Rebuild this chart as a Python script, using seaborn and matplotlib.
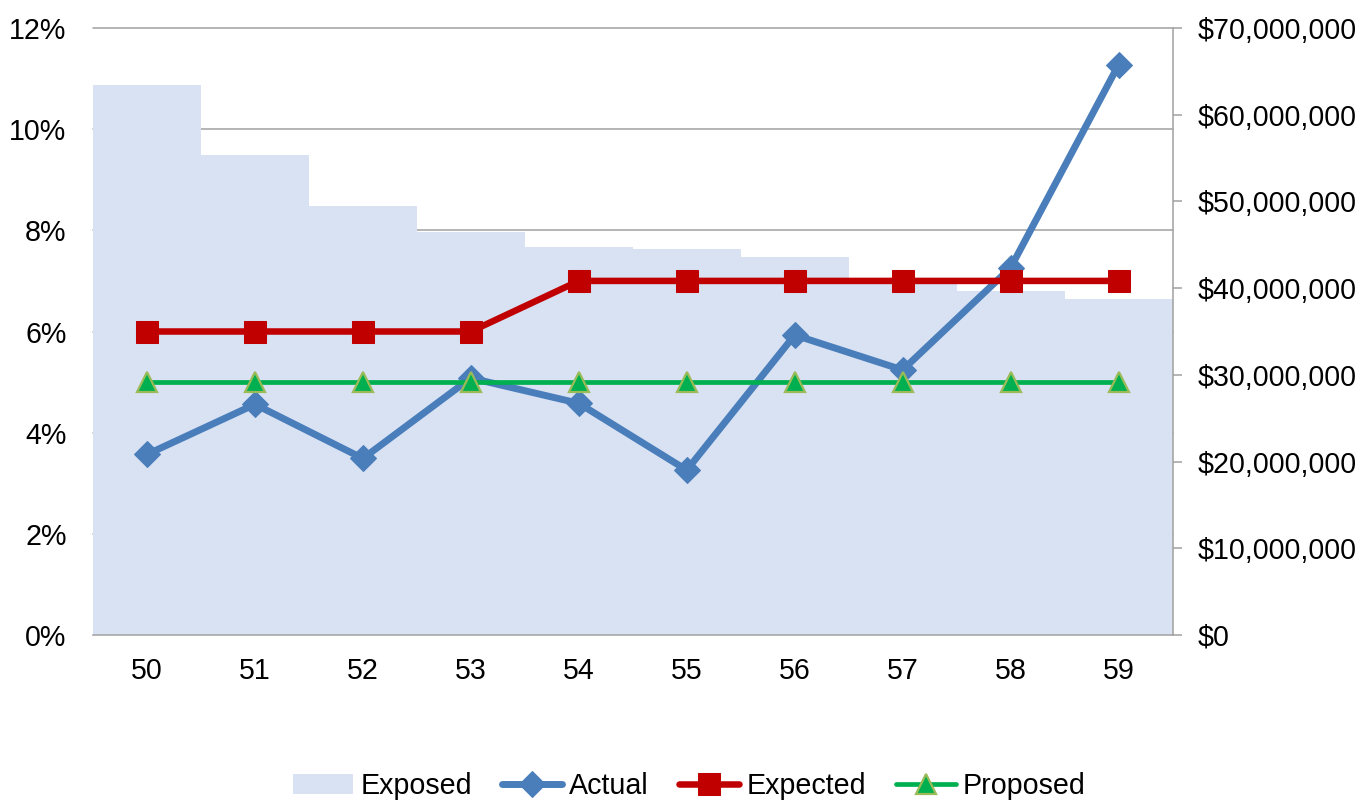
import numpy as np
import pandas as pd
import matplotlib
matplotlib.use("Agg")
import matplotlib.pyplot as plt
import matplotlib.transforms as mtransforms
from matplotlib.patches import Patch
from matplotlib.ticker import FuncFormatter, MultipleLocator
import seaborn as sns

# ---- data -------------------------------------------------------------
ages = ["50", "51", "52", "53", "54", "55", "56", "57", "58", "59"]
exposed = [63.4e6, 55.4e6, 49.5e6, 46.5e6, 44.7e6, 44.5e6, 43.6e6, 41.0e6, 39.7e6, 38.8e6]
actual = [3.57, 4.56, 3.49, 5.08, 4.58, 3.26, 5.93, 5.24, 7.26, 11.27]     # percent
expected = [6, 6, 6, 6, 7, 7, 7, 7, 7, 7]                                   # percent
proposed = [5, 5, 5, 5, 5, 5, 5, 5, 5, 5]                                   # percent

df = pd.DataFrame({
    "age": ages,
    "pos": np.arange(len(ages)),
    "exposed": exposed,
    "actual": actual,
    "expected": expected,
    "proposed": proposed,
})

# ---- style ------------------------------------------------------------
sns.set_theme(style="white")
plt.rcParams["font.family"] = ["Liberation Sans", "DejaVu Sans"]
plt.rcParams["text.color"] = "#000000"

BAR_COLOR = "#D9E2F3"
ACTUAL_COLOR = "#4A7EBB"
EXPECTED_COLOR = "#C00000"
PROPOSED_COLOR = "#00B050"
PROPOSED_EDGE = "#9BBB59"
AXIS_GRAY = "#A0A0A0"
FS = 20.6

fig = plt.figure(figsize=(13.65, 8.01), dpi=100)
ax_bar = fig.add_axes([93 / 1365, 1 - 635 / 801, (1172.5 - 93) / 1365, (635 - 28) / 801])
ax_line = ax_bar.twinx()

# ---- exposure bars (right-hand $ axis) ----------------------------------
sns.barplot(data=df, x="age", y="exposed", ax=ax_bar, color=BAR_COLOR,
            saturation=1, width=1.0, errorbar=None, edgecolor="none",
            linewidth=0, zorder=1)
ax_bar.set_ylim(0, 70e6)
ax_bar.yaxis.set_major_locator(MultipleLocator(10e6))
ax_bar.yaxis.set_major_formatter(FuncFormatter(lambda v, p: f"${v:,.0f}"))
ax_bar.yaxis.tick_right()
ax_bar.yaxis.set_label_position("right")
ax_bar.tick_params(axis="y", which="both", right=True, left=False, length=6.5,
                   width=1.1, color=AXIS_GRAY, pad=11.5, labelsize=FS,
                   labelcolor="#000000")
ax_bar.tick_params(axis="x", bottom=False, length=0, pad=16, labelsize=FS,
                   labelcolor="#000000")
for side in ("top", "left"):
    ax_bar.spines[side].set_visible(False)
for side in ("bottom", "right"):
    ax_bar.spines[side].set_color(AXIS_GRAY)
    ax_bar.spines[side].set_linewidth(1.1)
ax_bar.set_xlabel("")
ax_bar.set_ylabel("")

# ---- rate lines (left-hand % axis) ------------------------------------
sns.lineplot(data=df, x="pos", y="actual", ax=ax_line, color=ACTUAL_COLOR,
             linewidth=5, marker="D", markersize=13.5, markeredgecolor=ACTUAL_COLOR,
             markerfacecolor=ACTUAL_COLOR, label="Actual", legend=False)
sns.lineplot(data=df, x="pos", y="expected", ax=ax_line, color=EXPECTED_COLOR,
             linewidth=4.7, marker="s", markersize=16, markeredgecolor=EXPECTED_COLOR,
             markerfacecolor=EXPECTED_COLOR, label="Expected", legend=False)
sns.lineplot(data=df, x="pos", y="proposed", ax=ax_line, color=PROPOSED_COLOR,
             linewidth=3.4, marker="^", markersize=14.5, markeredgecolor=PROPOSED_EDGE,
             markeredgewidth=1.6, markerfacecolor=PROPOSED_COLOR, label="Proposed",
             legend=False)
ax_line.set_ylim(0, 12)
ax_line.yaxis.set_major_locator(MultipleLocator(2))
ax_line.yaxis.set_major_formatter(FuncFormatter(lambda v, p: f"{v:.0f}%"))
ax_line.yaxis.tick_left()
ax_line.tick_params(axis="y", left=False, right=False, length=0, pad=19,
                    labelsize=FS, labelcolor="#000000")
for s in ax_line.spines.values():
    s.set_visible(False)
ax_line.set_xlabel("")
ax_line.set_ylabel("")
ax_line.grid(False)
ax_bar.grid(False)
ax_bar.set_xlim(-0.5, len(ages) - 0.5)

# horizontal gridlines of the % axis, drawn beneath the bars
grid_tf = mtransforms.blended_transform_factory(ax_bar.transAxes, ax_line.transData)
for yv in np.arange(2, 12.01, 2):
    ax_bar.plot([0, 1], [yv, yv], transform=grid_tf, color=AXIS_GRAY,
                linewidth=1.1, zorder=0.5, clip_on=False)

# ---- legend -----------------------------------------------------------
handles = [Patch(facecolor=BAR_COLOR, edgecolor="none", label="Exposed")] + list(ax_line.lines[:3])
labels = ["Exposed", "Actual", "Expected", "Proposed"]
fig.legend(handles, labels, loc="center", bbox_to_anchor=(689.5 / 1365, 1 - 786 / 801),
           ncol=4, frameon=False, fontsize=FS, handlelength=2.1, handletextpad=0.25,
           columnspacing=1.05, numpoints=1)

fig.savefig("out.png", dpi=100)
